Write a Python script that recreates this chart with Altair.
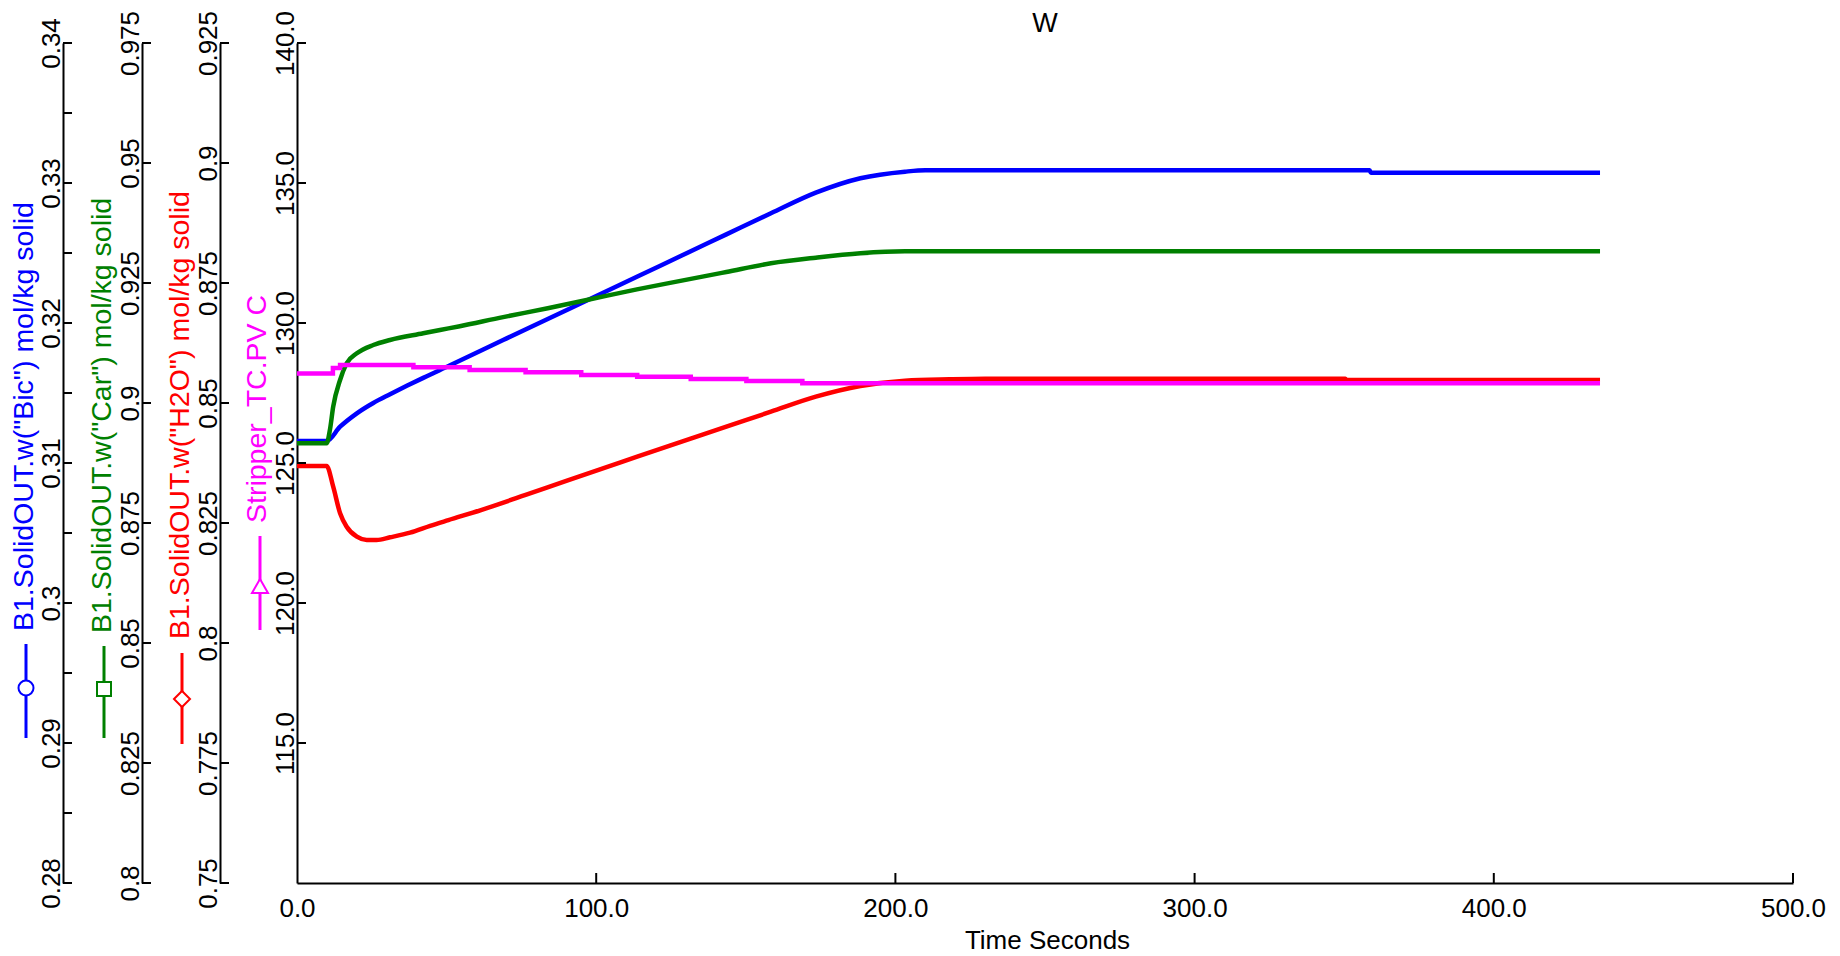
import altair as alt
import pandas as pd

# ---------------- data ----------------
T_BIC = [0, 9.9, 14.4, 20, 25.5, 31.1, 36.7, 42.2, 51, 68.9, 83.8, 98.8, 113.6,
         128.6, 143.5, 158.4, 173.4, 188.3, 203.2, 210, 358.5, 358.9, 435.5]
BIC = [0.31157, 0.31157, 0.31259, 0.31355, 0.31429, 0.31491, 0.31551, 0.31608,
       0.31696, 0.31878, 0.32029, 0.32180, 0.32330, 0.32482, 0.32633, 0.32784,
       0.32931, 0.33034, 0.33081, 0.33091, 0.33091, 0.33074, 0.33074]

T_CAR = [0, 9.9, 11, 12.1, 14.4, 16.6, 20, 25.5, 31.1, 42.2, 47.8, 54, 68.9, 83.8,
         98.8, 113.6, 128.6, 143.5, 158.4, 173.4, 188.3, 203.2, 435.5]
CAR = [0.89160, 0.89160, 0.89438, 0.89923, 0.90479, 0.90827, 0.91035, 0.91208,
       0.91313, 0.91452, 0.91521, 0.91595, 0.91790, 0.91973, 0.92172, 0.92368,
       0.92550, 0.92730, 0.92910, 0.93027, 0.93119, 0.93160, 0.93160]

T_H2O = [0, 9.9, 12.1, 14.4, 16.6, 20, 23.3, 26.6, 31.1, 37.8, 44.5, 50.6, 61.5,
         76.4, 90, 113.7, 128.6, 143.5, 158.4, 173.4, 188.3, 203.2, 218, 230,
         350.4, 350.8, 435.5]
H2O = [0.83688, 0.83688, 0.83256, 0.82702, 0.82423, 0.82215, 0.82146, 0.82146,
       0.82202, 0.82298, 0.82440, 0.82560, 0.82770, 0.83085, 0.83380, 0.83881,
       0.84194, 0.84506, 0.84819, 0.85131, 0.85354, 0.85465, 0.85494, 0.85506,
       0.85506, 0.85479, 0.85479]

T_TC = [0, 9.3, 12, 14.4, 38.9, 57.7, 76.4, 95, 113.7, 131.6, 150.2, 168.9, 435.5]
TC = [128.20, 128.20, 128.39, 128.50, 128.42, 128.32, 128.24, 128.14, 128.08,
      128.00, 127.93, 127.85, 127.85]

SERIES_NAMES = ['B1.SolidOUT.w("Bic") mol/kg solid',
                'B1.SolidOUT.w("Car") mol/kg solid',
                'B1.SolidOUT.w("H2O") mol/kg solid',
                'Stripper_TC.PV C']
COLORS = ['#0000ff', '#008000', '#ff0000', '#ff00ff']

BIC_LABELS = [0.28, 0.29, 0.30, 0.31, 0.32, 0.33, 0.34]
BIC_TICKS = [0.28, 0.285, 0.29, 0.295, 0.30, 0.305, 0.31, 0.315, 0.32, 0.325,
             0.33, 0.335, 0.34]
CAR_TICKS = [0.8, 0.825, 0.85, 0.875, 0.9, 0.925, 0.95, 0.975]
H2O_TICKS = [0.75, 0.775, 0.8, 0.825, 0.85, 0.875, 0.9, 0.925]
TC_TICKS = [115, 120, 125, 130, 135, 140]
X_LABELS = [0, 100, 200, 300, 400, 500]
X_TICKS = [100, 200, 300, 400, 500]

TITLE = 'W'
X_TITLE = 'Time Seconds'

# ---------------- styling ----------------
FONT = 'Liberation Sans'
W, H = 1496, 840

xscale = alt.Scale(domain=[0, 500], nice=False, zero=False)
xaxis = alt.Axis(values=X_LABELS, labelExpr="format(datum.value, '.1f')",
                 ticks=False, tickSize=0,
                 labelPadding=12, labelFontSize=26, labelFont=FONT,
                 labelColor='black', labelFlush=False, labelOverlap=False,
                 domainColor='black', domainWidth=2, grid=False,
                 title=X_TITLE, titleFont=FONT, titleFontSize=26,
                 titleFontWeight='normal', titleColor='black',
                 titleX=750, titleY=65, titleAlign='center',
                 titleBaseline='alphabetic', titleAngle=0)


def yaxis(offset, values, expr):
    return alt.Axis(orient='left', offset=offset, values=values, labelExpr=expr,
                    ticks=False, tickSize=0, labelAngle=270, labelAlign='center',
                    labelBaseline='alphabetic', labelPadding=4, labelFontSize=26,
                    labelFont=FONT, labelColor='black', labelFlush=False,
                    labelOverlap=False, domainColor='black', domainWidth=2,
                    grid=False, title=None)


def group(t, v, color, domain, offset, label_vals, tick_vals, expr, interp):
    df = pd.DataFrame({'t': t, 'v': v, 'i': list(range(len(t)))})
    ys = alt.Scale(domain=domain, nice=False, zero=False)
    ax = yaxis(offset, label_vals, expr)
    ticks = alt.Chart(pd.DataFrame({'v': tick_vals})).mark_rule(
        color='black', strokeWidth=2).encode(
        y=alt.Y('v:Q', scale=ys, axis=ax),
        x=alt.value(-offset), x2=alt.value(-offset + 9))
    line = alt.Chart(df).mark_line(color=color, strokeWidth=4.5,
                                   interpolate=interp).encode(
        x=alt.X('t:Q', scale=xscale, axis=xaxis),
        y=alt.Y('v:Q', scale=ys, axis=ax),
        order=alt.Order('i:Q'))
    return alt.layer(ticks, line)


FRAC = "format(datum.value, '.3~f')"
FIX1 = "format(datum.value, '.1f')"
g_bic = group(T_BIC, BIC, COLORS[0], [0.28, 0.34], 234, BIC_LABELS, BIC_TICKS, FRAC, 'monotone')
g_car = group(T_CAR, CAR, COLORS[1], [0.8, 0.975], 155, CAR_TICKS, CAR_TICKS, FRAC, 'monotone')
g_h2o = group(T_H2O, H2O, COLORS[2], [0.75, 0.925], 77, H2O_TICKS, H2O_TICKS, FRAC, 'monotone')
g_tc = group(T_TC, TC, COLORS[3], [110, 140], 0, TC_TICKS, TC_TICKS, FIX1, 'step-after')

xticks = alt.Chart(pd.DataFrame({'t': X_TICKS})).mark_rule(
    color='black', strokeWidth=2).encode(
    x=alt.X('t:Q', scale=xscale, axis=xaxis),
    y=alt.value(H), y2=alt.value(H - 10))

# legend glyphs + rotated series labels (left side)
LEG_X = [-271, -193, -115, -37]
LEG_Y1 = [601, 603, 610, 493]
LEG_Y2 = [695, 695, 701, 587]
LEG_SYM_Y = [645, 646, 656, 543]
SHAPES = ['circle', 'square', 'diamond', 'triangle-up']
SIZES = [225, 196, 256, 256]
LAB_X = [-264, -186, -108.5, -31]
LAB_Y = [588, 590, 596, 480]

extras = []
one = pd.DataFrame({'a': [0]})
for k in range(4):
    extras.append(alt.Chart(one).mark_rule(color=COLORS[k], strokeWidth=3).encode(
        x=alt.value(LEG_X[k]), y=alt.value(LEG_Y1[k]), y2=alt.value(LEG_Y2[k])))
    extras.append(alt.Chart(one).mark_point(
        shape=SHAPES[k], size=SIZES[k], filled=True, fill='white', fillOpacity=1,
        stroke=COLORS[k], strokeWidth=2, opacity=1).encode(
        x=alt.value(LEG_X[k]), y=alt.value(LEG_SYM_Y[k])))
    extras.append(alt.Chart(pd.DataFrame({'label': [SERIES_NAMES[k]]})).mark_text(
        angle=270, align='left', baseline='alphabetic', fontSize=28.5, font=FONT,
        color=COLORS[k]).encode(
        text='label:N', x=alt.value(LAB_X[k]), y=alt.value(LAB_Y[k])))

title = alt.Chart(pd.DataFrame({'label': [TITLE]})).mark_text(
    align='center', baseline='alphabetic', fontSize=27, font=FONT,
    color='black').encode(text='label:N', x=alt.value(W / 2), y=alt.value(-11))

chart = alt.layer(g_bic, g_car, g_h2o, g_tc, xticks, title, *extras).resolve_scale(
    y='independent').properties(
    width=W, height=H,
    autosize=alt.AutoSizeParams(type='none'),
    padding={'left': 289, 'top': 35, 'right': 36, 'bottom': 72},
).configure_view(stroke=None)

chart.save('out.html', embed_options={'renderer': 'svg', 'actions': False})
